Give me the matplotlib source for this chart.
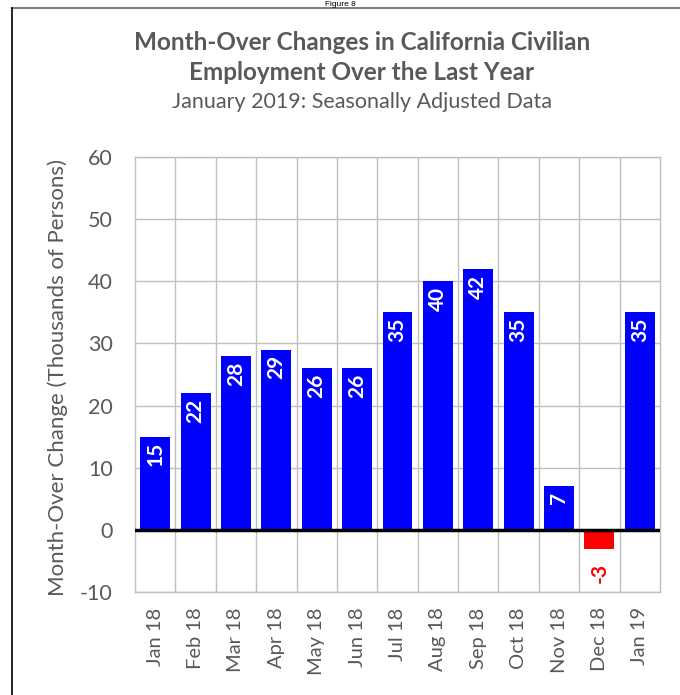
import matplotlib
matplotlib.use("Agg")
import matplotlib.pyplot as plt
from matplotlib.lines import Line2D

months = ["Jan 18", "Feb 18", "Mar 18", "Apr 18", "May 18", "Jun 18", "Jul 18",
          "Aug 18", "Sep 18", "Oct 18", "Nov 18", "Dec 18", "Jan 19"]
values = [15, 22, 28, 29, 26, 26, 35, 40, 42, 35, 7, -3, 35]
yticks = [-10, 0, 10, 20, 30, 40, 50, 60]

FONT = ["Lato", "DejaVu Sans"]
plt.rcParams['font.family'] = FONT
GRAY = "#595959"

fig = plt.figure(figsize=(6.8, 6.95), dpi=100)
W, H = 680, 695
ax = fig.add_axes([135 / W, 1 - 592 / H, (660 - 135) / W, (592 - 157) / H])

x = list(range(len(months)))
colors = ["#0000FF" if v >= 0 else "#FF0000" for v in values]
ax.bar(x, values, width=0.74, color=colors, zorder=3)

ax.set_xlim(-0.5, len(months) - 0.5)
ax.set_ylim(-10, 60)
ax.set_yticks(yticks)
ax.set_yticklabels([str(t) for t in yticks], fontsize=15.5, color=GRAY)
ax.set_xticks([i + 0.5 for i in x[:-1]], minor=False)
ax.set_xticklabels([])
ax.set_xticks(x, minor=True)
ax.set_xticklabels(months, minor=True, rotation=90, fontsize=14.5, color=GRAY)
ax.tick_params(axis='both', which='both', length=0)
ax.tick_params(axis='x', which='minor', pad=11)
ax.tick_params(axis='y', pad=16)
ax.grid(True, which='major', color="#BFBFBF", linewidth=1.0, zorder=0)
for s in ax.spines.values():
    s.set_color("#BFBFBF")
    s.set_linewidth(1.0)
ax.axhline(0, color="black", linewidth=2.5, zorder=4)

ax.set_ylabel("Month-Over Change (Thousands of Persons)", fontsize=16, color=GRAY, va="center")
ax.yaxis.set_label_coords(-0.147, 0.494)

for xi, v in zip(x, values):
    if v >= 0:
        ax.annotate(str(v), (xi, v), xytext=(0, -4), textcoords="offset points",
                    rotation=90, ha="center", va="top", color="white",
                    fontsize=15, fontweight="bold", zorder=5)
    else:
        ax.annotate(str(v), (xi, v), xytext=(0, -10), textcoords="offset points",
                    rotation=90, ha="center", va="top", color="#FF0000",
                    fontsize=15, fontweight="bold", zorder=5)

CX = 362 / W
fig.text(CX, 1 - 42 / H, "Month-Over Changes in California Civilian", ha="center", va="center",
         fontsize=17.5, fontweight="bold", color=GRAY)
fig.text(CX, 1 - 73 / H, "Employment Over the Last Year", ha="center", va="center",
         fontsize=17.5, fontweight="bold", color=GRAY)
fig.text(CX, 1 - 102 / H, "January 2019: Seasonally Adjusted Data", ha="center", va="center",
         fontsize=15.5, color=GRAY)
fig.text(0.5, 1 - 0.5 / H, "Figure 8", ha="center", va="top", fontsize=6, color="black",
         family=["Liberation Sans", "DejaVu Sans"])

fig.add_artist(Line2D([12 / W, 1], [1 - 7.5 / H, 1 - 7.5 / H], color="#7F7F7F", linewidth=1.5))
fig.add_artist(Line2D([12 / W, 12 / W], [0, 1 - 7.5 / H], color="black", linewidth=1.2))

fig.savefig("out.png", dpi=100)
